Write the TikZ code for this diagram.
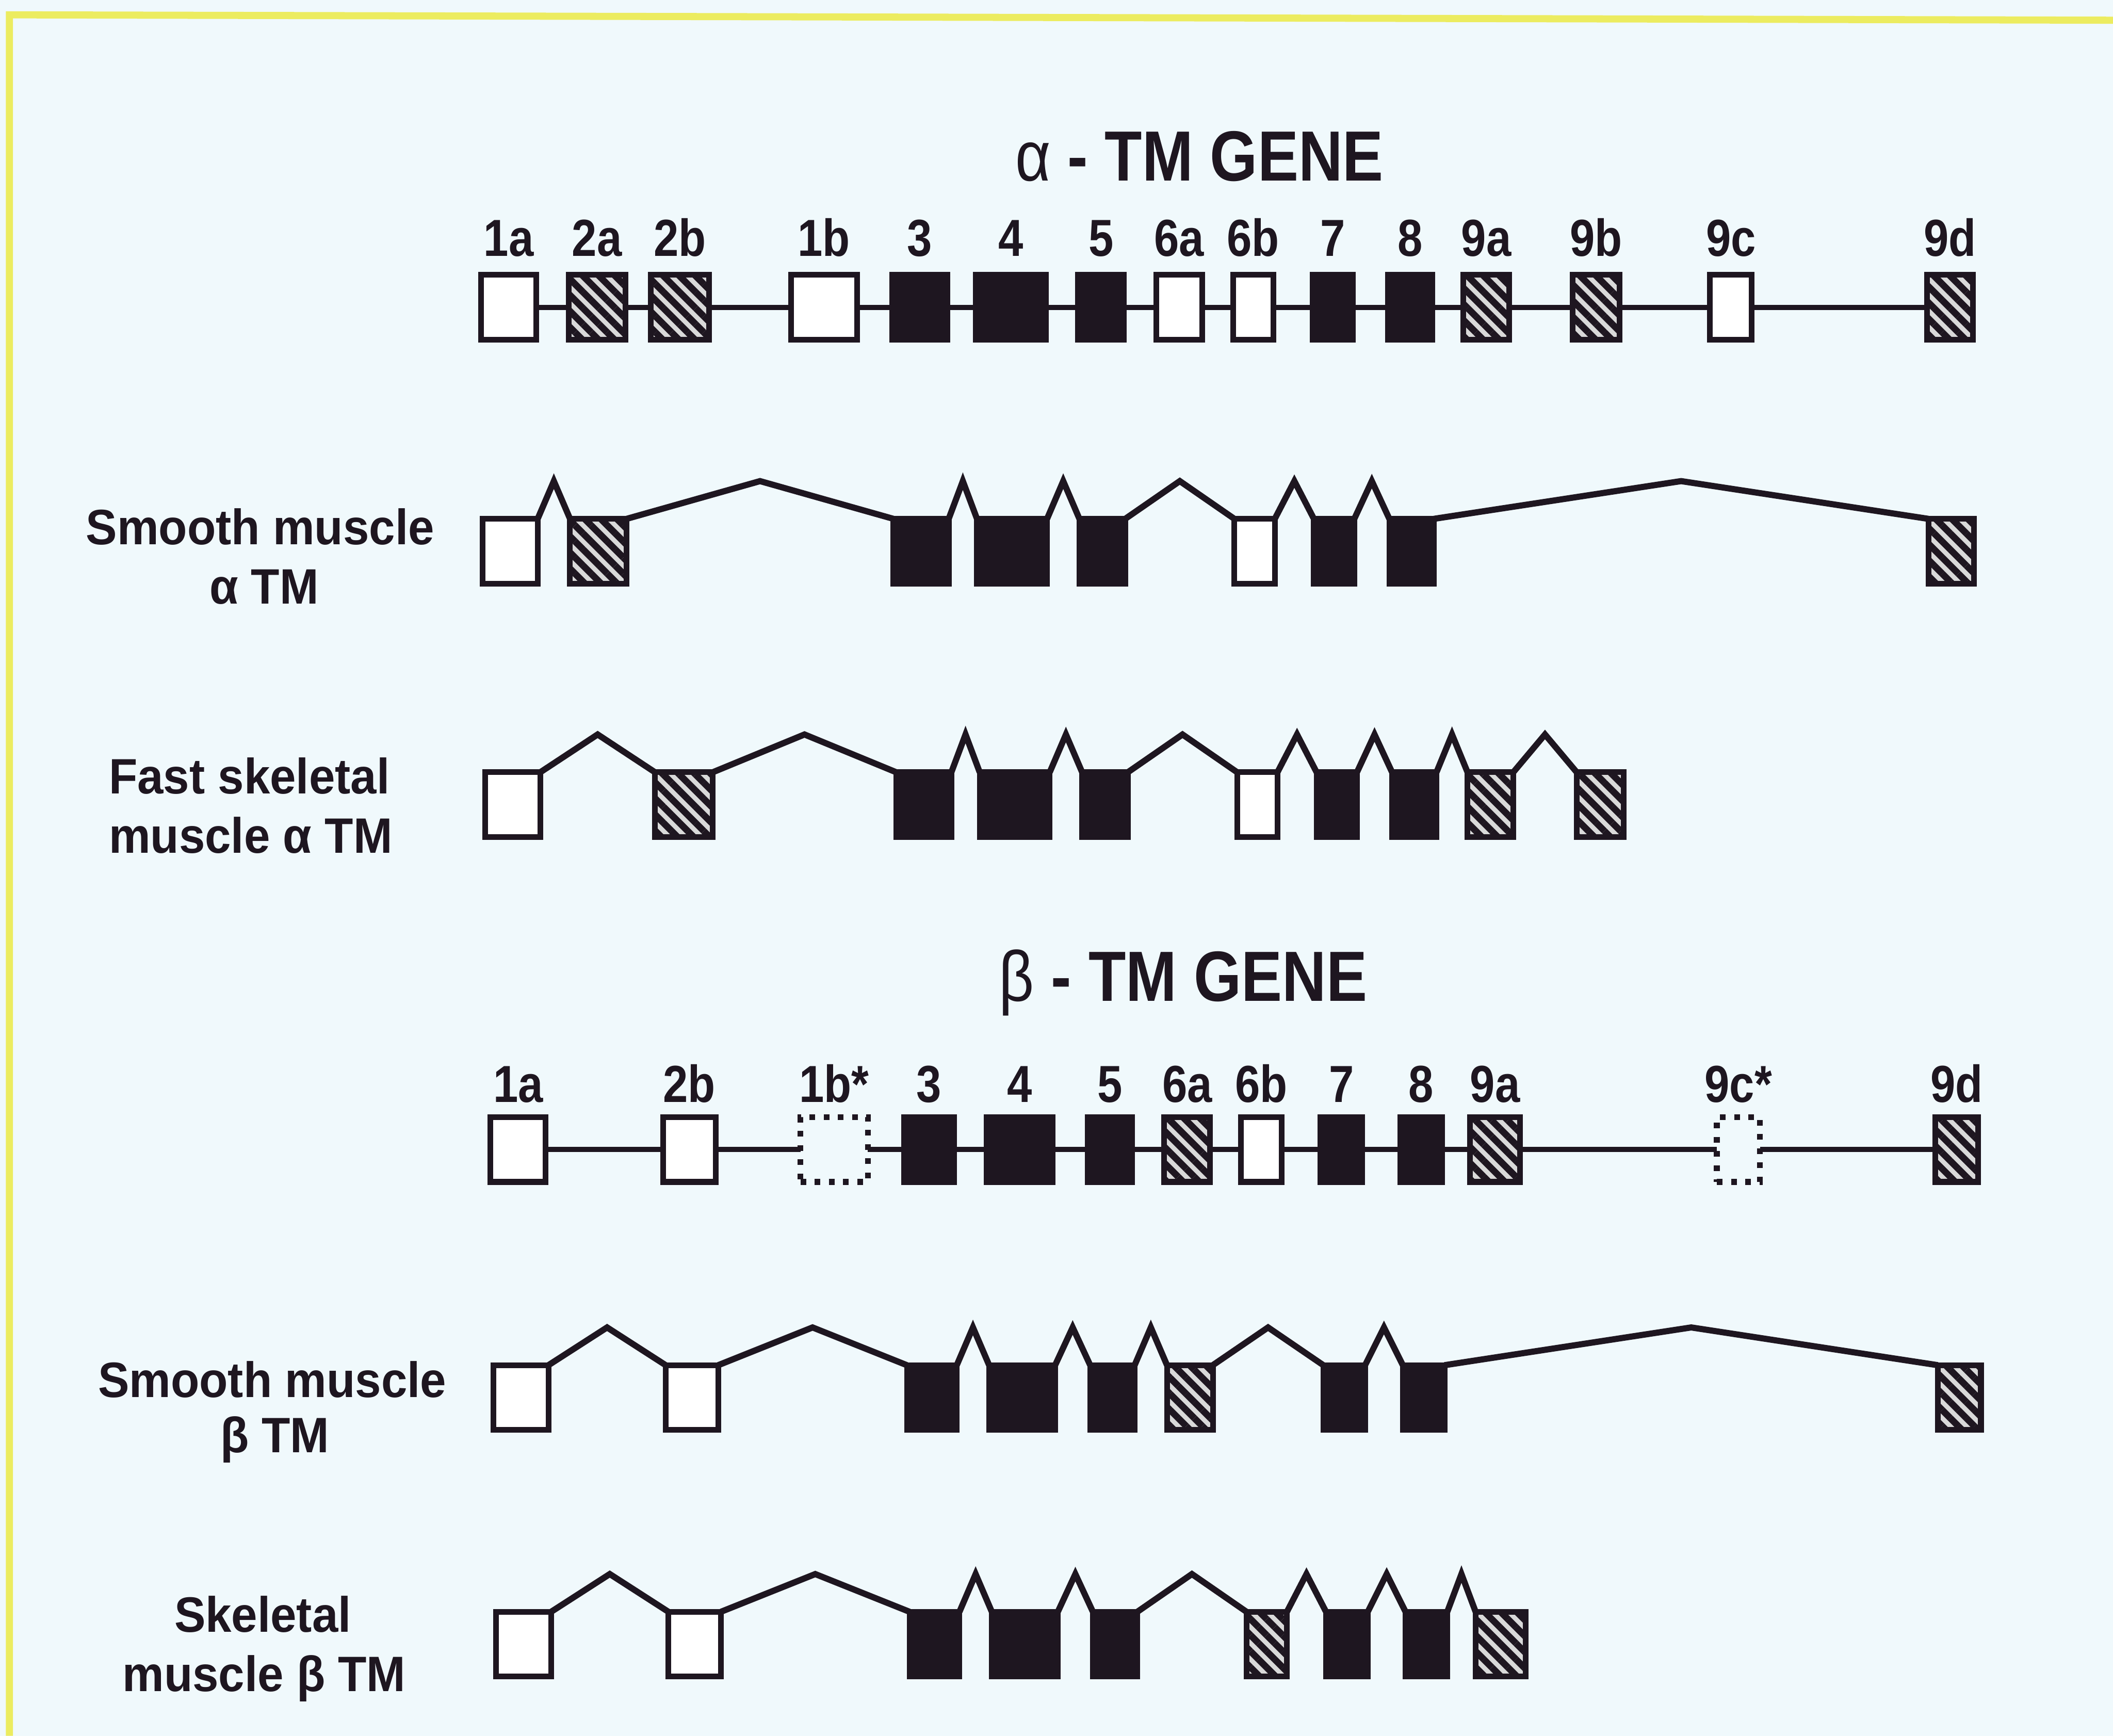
\documentclass[tikz,border=0pt]{standalone}
\usepackage{fontspec}
\setmainfont{Liberation Sans}
\newfontfamily\figfont[FakeStretch=0.86]{Liberation Sans}
\newfontfamily\rowfont[FakeStretch=0.94]{Liberation Sans}
\usetikzlibrary{calc, patterns.meta}

\definecolor{paper}{RGB}{240,249,252}
\definecolor{ink}{RGB}{30,22,32}
\definecolor{rim}{RGB}{236,236,96}

% intron drawn as a peak between two exons of a transcript
\newcommand{\intron}[2]{%
	\draw[intron] (#1.north east) -- ($(#1.north east)!.5!(#2.north west)+(0,-28)$) -- (#2.north west);}

\begin{document}
\begin{tikzpicture}[
		x=0.01cm, y=-0.01cm,
		% exon boxes
		exon/.style={draw=ink, line width=1.2pt, inner sep=0pt, outer sep=0pt,
			minimum height=0.48cm, anchor=north west},
		open/.style={fill=white},
		filled/.style={fill=ink},
		hatch/.style={fill=black!15, postaction={pattern color=ink,
				pattern={Lines[angle=-45, distance=2.4pt, line width=1.4pt]}}},
		putative/.style={dash pattern=on 1.2pt off 1.8pt},
		% connectors
		gene/.style={draw=ink, line width=1.1pt},
		intron/.style={draw=ink, line width=1.3pt, line join=miter},
		% Title & Text
		title/.style={font=\figfont\bfseries\fontsize{15}{18}\selectfont, text=ink, anchor=base, inner sep=0pt},
		exlabel/.style={font=\figfont\bfseries\fontsize{11}{13}\selectfont, text=ink, anchor=base, inner sep=0pt},
		rowlabel/.style={font=\rowfont\bfseries\fontsize{10.5}{12}\selectfont, text=ink, anchor=base, inner sep=0pt}
		]
		
		\useasboundingbox (0,0) rectangle (1568,1288);
		\fill[paper] (0,0) rectangle (1568,1288);
		\draw[rim, line width=1.5pt] (7,1288) -- (7,11) -- (1568,15);
		
		% ALPHA GENE
		\node[title] (atitle) at (890,134) {{\mdseries α} - TM GENE};
		\foreach \id/\lx/\w/\kind/\txt in {1a/357/41/open/1a, 2a/422/42/hatch/2a, 2b/483/43/hatch/2b,
				1b/587/49/open/1b, 3/662/41/filled/3, 4/724/52/filled/4, 5/800/34/filled/5,
				6a/858/34/open/6a, 6b/915/30/open/6b, 7/974/30/filled/7, 8/1030/33/filled/8,
				9a/1086/34/hatch/9a, 9b/1167/35/hatch/9b, 9c/1269/31/open/9c, 9d/1430/34/hatch/9d}{
			\node[exon, \kind, minimum width=\w*0.01cm] (ag\id) at (\lx,204) {};
			\node[exlabel] (lag\id) at ($(ag\id.north)+(0,-14)$) {\txt};
		}
		\foreach \a/\b in {1a/2a, 2a/2b, 2b/1b, 1b/3, 3/4, 4/5, 5/6a, 6a/6b, 6b/7, 7/8,
				8/9a, 9a/9b, 9b/9c, 9c/9d}
			\draw[gene] (ag\a) -- (ag\b);
		
		% smooth muscle alpha TM
		\node[rowlabel] (asl1) at (193,404) {Smooth muscle};
		\node[rowlabel] (asl2) at (196,448) {α TM};
		\begin{scope}[shift={(1,0)}]
			\foreach \id/\lx/\w/\kind in {1a/357/41/open, 2a/422/42/hatch, 3/662/41/filled,
					4/724/52/filled, 5/800/34/filled, 6b/915/30/open, 7/974/30/filled,
					8/1030/33/filled, 9d/1430/34/hatch}
				\node[exon, \kind, minimum width=\w*0.01cm] (as\id) at (\lx,385) {};
		\end{scope}
		\foreach \a/\b in {1a/2a, 2a/3, 3/4, 4/5, 5/6b, 6b/7, 7/8, 8/9d}
			{\intron{as\a}{as\b}}
		
		% fast skeletal muscle alpha TM
		\node[rowlabel] (afl1) at (185,589) {Fast skeletal};
		\node[rowlabel] (afl2) at (186,633) {muscle α TM};
		\begin{scope}[shift={(3,0)}]
			\foreach \id/\lx/\w/\kind in {1a/357/41/open, 2b/483/43/hatch, 3/662/41/filled,
					4/724/52/filled, 5/800/34/filled, 6b/915/30/open, 7/974/30/filled,
					8/1030/33/filled, 9a/1086/34/hatch, 9b/1167/35/hatch}
				\node[exon, \kind, minimum width=\w*0.01cm] (af\id) at (\lx,573) {};
		\end{scope}
		\foreach \a/\b in {1a/2b, 2b/3, 3/4, 4/5, 5/6b, 6b/7, 7/8, 8/9a, 9a/9b}
			{\intron{af\a}{af\b}}
		
		% BETA GENE
		\node[title] (btitle) at (878,743) {{\mdseries β} - TM GENE};
		\foreach \id/\lx/\w/\kind/\txt in {1a/364/41/open/1a, 2b/492/39/open/2b, 1bs/594/50/putative/1b*,
				3/671/37/filled/3, 4/732/49/filled/4, 5/807/33/filled/5, 6a/864/34/hatch/6a,
				6b/921/30/open/6b, 7/980/31/filled/7, 8/1039/31/filled/8, 9a/1091/37/hatch/9a,
				9cs/1274/32/putative/9c*, 9d/1436/32/hatch/9d}{
			\node[exon, \kind, minimum width=\w*0.01cm] (bg\id) at (\lx,829) {};
			\node[exlabel] (lbg\id) at ($(bg\id.north)+(0,-11)$) {\txt};
		}
		\foreach \a/\b in {1a/2b, 2b/1bs, 1bs/3, 3/4, 4/5, 5/6a, 6a/6b, 6b/7, 7/8,
				8/9a, 9a/9cs, 9cs/9d}
			\draw[gene] (bg\a) -- (bg\b);
		
		% smooth muscle beta TM
		\node[rowlabel] (bsl1) at (202,1037) {Smooth muscle};
		\node[rowlabel] (bsl2) at (204,1078) {β TM};
		\begin{scope}[shift={(2,0)}]
			\foreach \id/\lx/\w/\kind in {1a/364/41/open, 2b/492/39/open, 3/671/37/filled,
					4/732/49/filled, 5/807/33/filled, 6a/864/34/hatch, 7/980/31/filled,
					8/1039/31/filled, 9d/1436/32/hatch}
				\node[exon, \kind, minimum width=\w*0.01cm] (bs\id) at (\lx,1013) {};
		\end{scope}
		\foreach \a/\b in {1a/2b, 2b/3, 3/4, 4/5, 5/6a, 6a/7, 7/8, 8/9d}
			{\intron{bs\a}{bs\b}}
		
		% skeletal muscle beta TM
		\node[rowlabel] (bkl1) at (195,1211) {Skeletal};
		\node[rowlabel] (bkl2) at (196,1255) {muscle β TM};
		\begin{scope}[shift={(4,0)}]
			\foreach \id/\lx/\w/\kind in {1a/364/41/open, 2b/492/39/open, 3/671/37/filled,
					4/732/49/filled, 5/807/33/filled, 6b/921/30/hatch, 7/980/31/filled,
					8/1039/31/filled, 9a/1091/37/hatch}
				\node[exon, \kind, minimum width=\w*0.01cm] (bk\id) at (\lx,1196) {};
		\end{scope}
		\foreach \a/\b in {1a/2b, 2b/3, 3/4, 4/5, 5/6b, 6b/7, 7/8, 8/9a}
			{\intron{bk\a}{bk\b}}
	\end{tikzpicture}
\end{document}
